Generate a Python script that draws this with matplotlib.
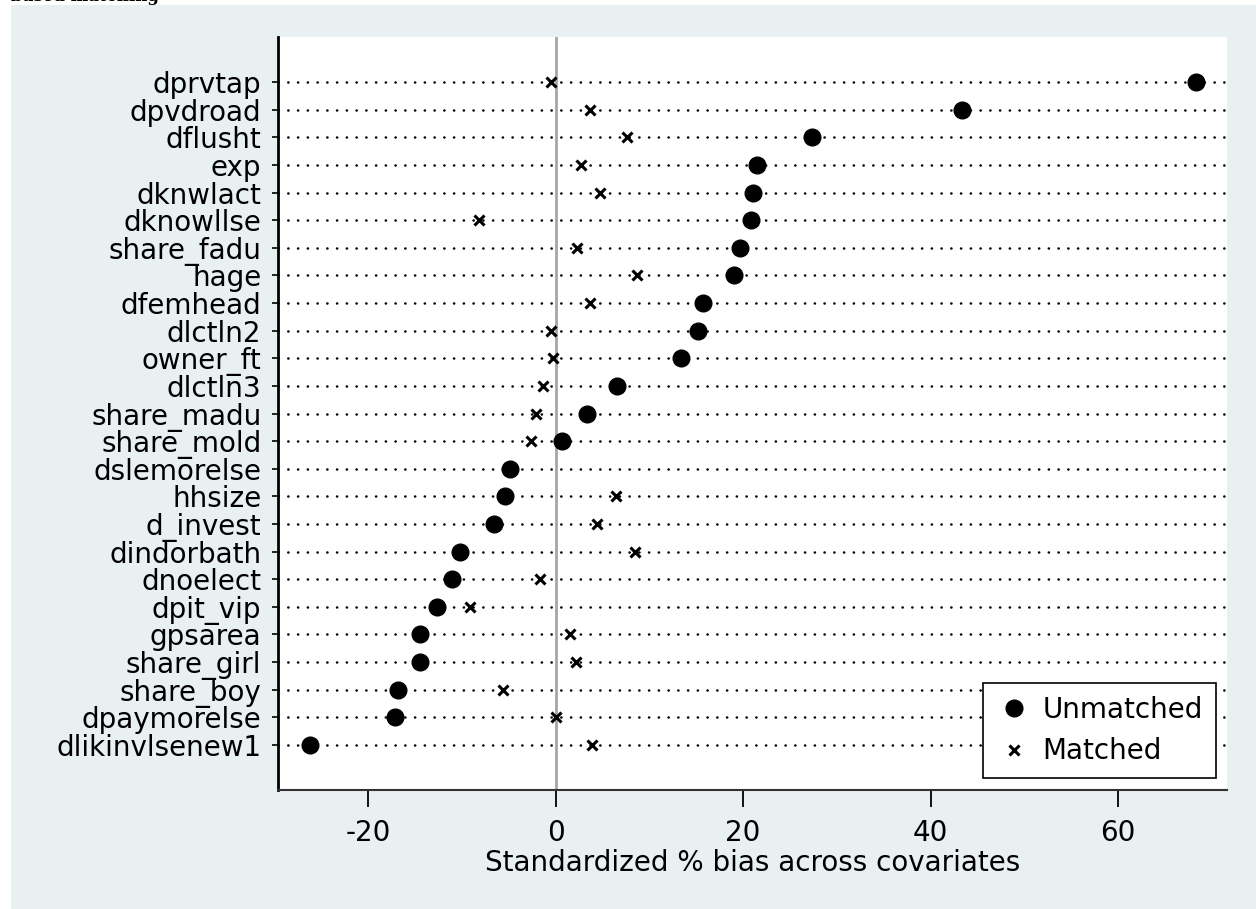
import matplotlib
matplotlib.use("Agg")
import matplotlib.pyplot as plt
from matplotlib.patches import Rectangle

# covariates, top to bottom
covariates = ["dprvtap", "dpvdroad", "dflusht", "exp", "dknwlact", "dknowllse",
              "share_fadu", "hage", "dfemhead", "dlctln2", "owner_ft", "dlctln3",
              "share_madu", "share_mold", "dslemorelse", "hhsize", "d_invest",
              "dindorbath", "dnoelect", "dpit_vip", "gpsarea", "share_girl",
              "share_boy", "dpaymorelse", "dlikinvlsenew1"]

# standardized % bias before matching
unmatched = [68.3, 43.3, 27.3, 21.5, 21.1, 20.8, 19.7, 19.0, 15.7, 15.2, 13.4, 6.5,
             3.4, 0.7, -4.9, -5.35, -6.6, -10.2, -11.0, -12.6, -14.45, -14.5,
             -16.8, -17.15, -26.2]

# standardized % bias after matching
matched = [-0.5, 3.7, 7.6, 2.7, 4.7, -8.2, 2.3, 8.7, 3.7, -0.5, -0.3, -1.3,
           -2.1, -2.6, -4.9, 6.4, 4.4, 8.5, -1.7, -9.1, 1.55, 2.2,
           -5.6, 0.0, 3.9]

xticks = [-20, 0, 20, 40, 60]

FONT = "DejaVu Sans"
FS = 20
BG = "#e8f0f2"

fig = plt.figure(figsize=(12.56, 9.09), dpi=100)
fig.patch.set_facecolor("white")
bg = Rectangle((11 / 1256, 0), 1 - 11 / 1256, 1 - 5 / 909,
               transform=fig.transFigure, facecolor=BG,
               edgecolor="none", zorder=-10)
fig.add_artist(bg)
fig.text(11 / 1256, 1 - 1 / 909, "based matching", fontsize=12,
         fontweight="bold", family="DejaVu Serif", va="baseline", ha="left")

ax = fig.add_axes([278 / 1256, 1 - 790 / 909, (1227 - 278) / 1256, (790 - 37) / 909])
ax.set_facecolor("white")

n = len(covariates)
ypos = list(range(n))

for y in ypos:
    ax.axhline(y, color="black", lw=1.8, ls=(0, (0.1, 3.8)),
               dash_capstyle="round", zorder=1)
ax.axvline(0, color="#a6a6a6", lw=2, zorder=2)

ax.plot(unmatched, ypos, "o", color="black", ms=12, ls="none",
        label="Unmatched", zorder=3)
ax.plot(matched, ypos, "x", color="black", ms=7.5, mew=2.2, ls="none",
        label="Matched", zorder=4)

ax.set_ylim(n - 1 + 1.63, -1.63)
ax.set_xlim(-29.6, 71.6)
ax.set_yticks(ypos)
ax.set_yticklabels(covariates, family=FONT, fontsize=FS)
ax.set_xticks(xticks)
ax.set_xticklabels([str(t) for t in xticks], family=FONT, fontsize=FS)
ax.tick_params(axis="x", length=12, width=1.3, pad=9, color="black")
ax.tick_params(axis="y", length=4, width=1.2, pad=8, color="black")
ax.set_xlabel("Standardized % bias across covariates", family=FONT,
              fontsize=FS, labelpad=1)

for side in ["top", "right"]:
    ax.spines[side].set_visible(False)
ax.spines["left"].set_linewidth(2)
ax.spines["bottom"].set_linewidth(1.5)
ax.spines["bottom"].set_color("#333333")

leg = ax.legend(loc="lower right", bbox_to_anchor=(0.988, 0.016),
                prop={"family": FONT, "size": FS}, fancybox=False,
                framealpha=1, edgecolor="black", borderpad=0.45,
                handletextpad=0.4, labelspacing=0.5, handlelength=1.3,
                borderaxespad=0)
leg.get_frame().set_linewidth(1.2)
leg.set_zorder(5)

fig.savefig("out.png", dpi=100)
